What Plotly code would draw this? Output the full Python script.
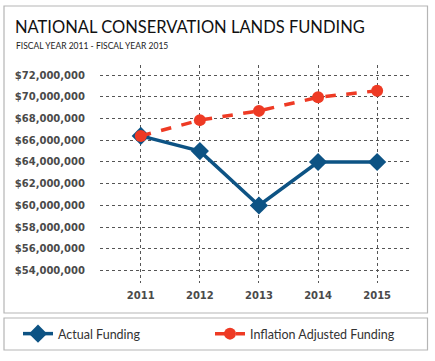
import plotly.graph_objects as go

years = [2011, 2012, 2013, 2014, 2015]
actual = [66.4e6, 65.0e6, 60.0e6, 64.0e6, 64.0e6]
inflation = [66.4e6, 67.85e6, 68.7e6, 69.95e6, 70.55e6]
ytick_vals = [54e6, 56e6, 58e6, 60e6, 62e6, 64e6, 66e6, 68e6, 70e6, 72e6]
ytick_text = ["$54,000,000", "$56,000,000", "$58,000,000", "$60,000,000", "$62,000,000",
              "$64,000,000", "$66,000,000", "$68,000,000", "$70,000,000", "$72,000,000"]

BLUE = "#0d5384"
RED = "#ee3a24"

W, H = 435, 361
L, R, T, B = 100, 23, 65, 78
pw, ph = W - L - R, H - T - B

def px(x):
    return (x - L) / pw

def py(y):
    return (H - B - y) / ph

def cx(x):
    return x / W

def cy(y):
    return 1 - y / H

fig = go.Figure()
fig.add_trace(go.Scatter(x=years, y=actual, name="Actual Funding", mode="lines+markers",
                         line=dict(color=BLUE, width=3.5),
                         marker=dict(symbol="diamond", size=14, color=BLUE),
                         legend="legend", showlegend=True))
fig.add_trace(go.Scatter(x=years, y=inflation, name="Inflation Adjusted Funding", mode="lines+markers",
                         line=dict(color=RED, width=3.5, dash="dash"),
                         marker=dict(symbol="circle", size=12, color=RED),
                         legend="legend2", showlegend=True))

grid = dict(showgrid=True, gridcolor="#555", griddash="dot", gridwidth=1, zeroline=False,
            showline=False)
tickfont = dict(family="DejaVu Sans", size=10, color="#4a4a4a", weight="bold")
fig.update_xaxes(range=[2010.31, 2015.59], tickvals=years, ticktext=[str(y) for y in years],
                 ticks="outside", ticklen=3, tickcolor="rgba(0,0,0,0)",
                 tickfont=tickfont, **grid)
fig.update_yaxes(range=[52.87e6, 72.92e6], tickvals=ytick_vals, ticktext=ytick_text,
                 ticks="outside", ticklen=12, tickcolor="rgba(0,0,0,0)",
                 tickfont=tickfont, **grid)

shapes = [
    dict(type="rect", xref="paper", yref="paper", x0=px(4), x1=px(427.5), y0=py(313), y1=py(6),
         line=dict(color="#b5b5b5", width=1.2), fillcolor="rgba(0,0,0,0)", layer="below"),
    dict(type="rect", xref="paper", yref="paper", x0=px(4), x1=px(427.5), y0=py(350), y1=py(318),
         line=dict(color="#b5b5b5", width=1.2), fillcolor="rgba(0,0,0,0)", layer="below"),
]

annotations = [
    dict(text="NATIONAL CONSERVATION LANDS FUNDING", xref="paper", yref="paper",
         x=px(13), y=py(27), xanchor="left", yanchor="middle", showarrow=False,
         font=dict(family="Lato", size=16.5, color="#111")),
    dict(text="FISCAL YEAR 2011 - FISCAL YEAR 2015", xref="paper", yref="paper",
         x=px(14), y=py(45.5), xanchor="left", yanchor="middle", showarrow=False,
         font=dict(family="Lato", size=8.5, color="#222")),
]

legfont = dict(family="Lato", size=12.5, color="#333")
fig.update_layout(
    width=W, height=H, margin=dict(l=L, r=R, t=T, b=B, autoexpand=False),
    paper_bgcolor="white", plot_bgcolor="white", showlegend=True,
    shapes=shapes, annotations=annotations,
    legend=dict(orientation="h", xref="container", yref="container",
                x=cx(18), y=cy(334), xanchor="left", yanchor="middle",
                font=legfont, bgcolor="rgba(0,0,0,0)"),
    legend2=dict(orientation="h", xref="container", yref="container",
                 x=cx(210), y=cy(334), xanchor="left", yanchor="middle",
                 font=legfont, bgcolor="rgba(0,0,0,0)"),
)

fig.write_html("out.html", config={"displayModeBar": False},
               post_script="document.body.style.margin='0';")
